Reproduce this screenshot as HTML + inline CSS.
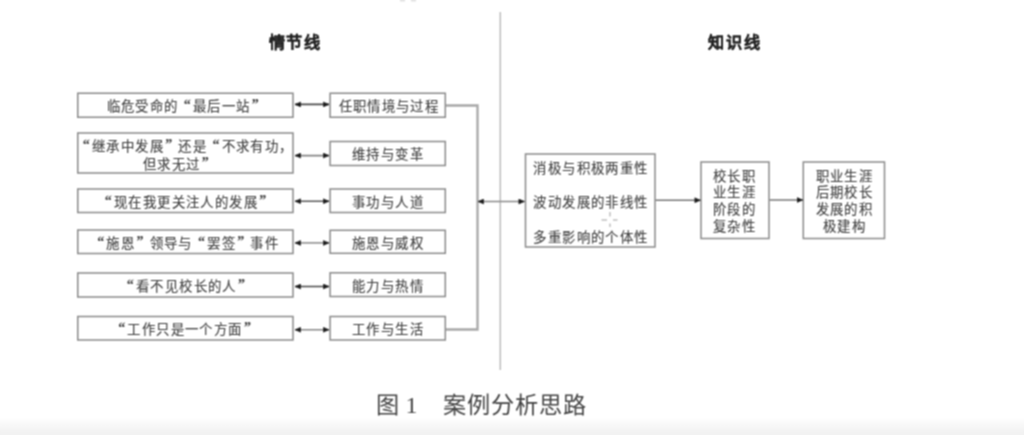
<!DOCTYPE html>
<html lang="zh-CN">
<head>
<meta charset="utf-8">
<style>
html,body{margin:0;padding:0;background:#fff;}
body{width:1024px;height:435px;position:relative;overflow:hidden;font-family:"Liberation Serif",serif;}
svg{position:absolute;left:0;top:0;}
#w{position:absolute;left:0;top:0;width:1024px;height:435px;filter:url(#fb);}
.t{position:absolute;margin-top:1.8px;font-size:13.4px;letter-spacing:1.4px;line-height:16.6px;-webkit-text-stroke:0.12px #404040;white-space:nowrap;color:#404040;}
.qo,.qc{font-size:14px;font-weight:bold;position:relative;top:-1.8px;letter-spacing:0;}
.qo{display:inline-block;width:14.4px;text-align:right;padding-right:2.2px;box-sizing:border-box;}
.qc{display:inline-block;width:14.4px;text-align:left;padding-left:1.3px;box-sizing:border-box;}
.h{position:absolute;font-family:"Liberation Sans",sans-serif;font-weight:900;font-size:16.2px;letter-spacing:1.8px;line-height:20px;-webkit-text-stroke:0.15px #222;white-space:nowrap;color:#222;}
.cap{position:absolute;font-size:24px;letter-spacing:0.4px;line-height:28px;white-space:nowrap;color:#444;}
.band{position:absolute;left:0;top:417px;width:1024px;height:18px;background:linear-gradient(#fff,#f3f3f3 75%,#f1f1f1);}
</style>
</head>
<body>
<svg width="0" height="0" style="position:absolute"><filter id="fb" x="0" y="0" width="100%" height="100%" color-interpolation-filters="sRGB"><feConvolveMatrix order="3" kernelMatrix="1 2 1 2 4 2 1 2 1" divisor="16" edgeMode="duplicate" preserveAlpha="false"/></filter></svg>
<div id="w">
<div class="band"></div>
<svg width="1024" height="435" viewBox="0 0 1024 435">
<rect x="400" y="0" width="5" height="1.5" fill="#e2e2e2"/><rect x="411" y="0" width="5" height="1.5" fill="#e2e2e2"/>
<defs>
<marker id="ah" viewBox="0 0 10 10" refX="10" refY="5" markerWidth="6.4" markerHeight="6" markerUnits="userSpaceOnUse" orient="auto-start-reverse">
<path d="M0.5,0.8 L10,5 L0.5,9.2 z" fill="#1a1a1a" stroke="#1a1a1a" stroke-width="0.8" stroke-linejoin="round"/>
</marker>
</defs>
<g fill="none" stroke="#8a8a8a" stroke-width="1.5">
<rect x="77.75" y="93.25" width="215.25" height="24"/>
<rect x="77.75" y="133" width="215.25" height="40"/>
<rect x="77.75" y="189" width="215.25" height="23.5"/>
<rect x="77.75" y="230" width="215.25" height="23.5"/>
<rect x="77.75" y="273" width="215.25" height="24"/>
<rect x="77.75" y="316.5" width="215.25" height="23.5"/>
<rect x="330.1" y="93.25" width="115.2" height="24"/>
<rect x="330.1" y="141.5" width="115.2" height="24"/>
<rect x="330.1" y="189" width="115.2" height="23.5"/>
<rect x="330.1" y="230.3" width="115.2" height="23"/>
<rect x="330.1" y="272.8" width="115.2" height="23.7"/>
<rect x="330.1" y="316.5" width="115.2" height="23.5"/>
<rect x="525.5" y="154" width="129.5" height="93"/>
<rect x="701" y="162" width="68" height="76.5"/>
<rect x="803.3" y="162" width="81.2" height="76.5"/>
</g>
<g fill="none" stroke="#a8a8a8" stroke-width="2.3">
<polyline points="446,105.5 477.5,105.5 477.5,329.5 446,329.5"/>
</g>
<g stroke="#c4c4c4" stroke-width="1.6">
<line x1="610" y1="212" x2="610" y2="216.5"/>
<line x1="610" y1="223.5" x2="610" y2="227"/>
<line x1="601.5" y1="220" x2="607" y2="220"/>
<line x1="613" y1="220" x2="617.5" y2="220"/>
</g>
<line x1="500.3" y1="12" x2="500.3" y2="370" stroke="#bdbdbd" stroke-width="1.5"/>
<g stroke="#8a8a8a" stroke-width="1.6" marker-start="url(#ah)" marker-end="url(#ah)">
<line x1="295" y1="104.4" x2="329" y2="104.4" stroke="#4a4a4a"/>
<line x1="295" y1="155.6" x2="329" y2="155.6" stroke="#858585"/>
<line x1="295" y1="201.25" x2="329" y2="201.25" stroke="#5a5a5a"/>
<line x1="295" y1="242.9" x2="329" y2="242.9" stroke="#9a9a9a"/>
<line x1="295" y1="286.5" x2="329" y2="286.5" stroke="#4a4a4a"/>
<line x1="295" y1="329.75" x2="329" y2="329.75" stroke="#8a8a8a"/>
<line x1="478" y1="201.5" x2="524.5" y2="201.5"/>
</g>
<g stroke="#777" stroke-width="1.5" marker-end="url(#ah)">
<line x1="655.5" y1="200.25" x2="700.5" y2="200.25"/>
<line x1="769.5" y1="200" x2="802.8" y2="200"/>
</g>
</svg>

<div class="h" style="left:268.5px;top:32.2px">情节线</div>
<div class="h" style="left:708px;top:32.2px">知识线</div>

<div class="t" style="left:106.5px;top:97px">临危受命的<span class="qo">“</span>最后一站<span class="qc">”</span></div>
<div class="t" style="left:77.6px;top:137px"><span class="qo">“</span>继承中发展<span class="qc">”</span>还是<span class="qo">“</span>不求有功，</div>
<div class="t" style="left:142.8px;top:155px">但求无过<span class="qc">”</span></div>
<div class="t" style="left:99.6px;top:193px"><span class="qo">“</span>现在我更关注人的发展<span class="qc">”</span></div>
<div class="t" style="left:92px;top:234px"><span class="qo">“</span>施恩<span class="qc">”</span>领导与<span class="qo">“</span>罢签<span class="qc">”</span>事件</div>
<div class="t" style="left:121.6px;top:277px"><span class="qo">“</span>看不见校长的人<span class="qc">”</span></div>
<div class="t" style="left:113px;top:320px"><span class="qo">“</span>工作只是一个方面<span class="qc">”</span></div>

<div class="t" style="left:338.5px;top:97px">任职情境与过程</div>
<div class="t" style="left:352px;top:145px">维持与变革</div>
<div class="t" style="left:352px;top:193px">事功与人道</div>
<div class="t" style="left:352px;top:234px">施恩与威权</div>
<div class="t" style="left:352px;top:277px">能力与热情</div>
<div class="t" style="left:352px;top:320px">工作与生活</div>

<div class="t" style="left:533.4px;top:159px">消极与积极两重性</div>
<div class="t" style="left:533.4px;top:193px">波动发展的非线性</div>
<div class="t" style="left:533.4px;top:228px">多重影响的个体性</div>

<div class="t" style="left:713px;top:167px">校长职<br>业生涯<br>阶段的<br>复杂性</div>
<div class="t" style="left:815.5px;top:167px;text-align:center">职业生涯<br>后期校长<br>发展的积<br>极建构</div>

<div class="cap" style="left:376px;top:390.8px;font-size:23.2px">图</div>
<div class="cap" style="left:405.5px;top:391px">1</div>
<div class="cap" style="left:442.8px;top:390.8px;font-size:23.2px;letter-spacing:1px">案例分析思路</div>
</div>
</body>
</html>
